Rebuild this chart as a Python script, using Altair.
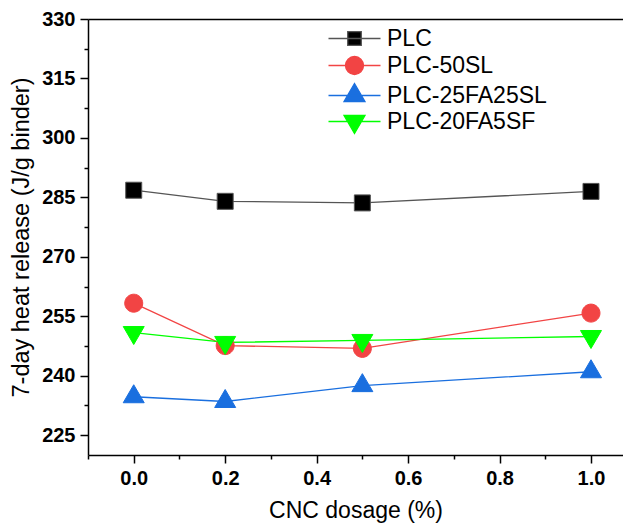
import altair as alt
import pandas as pd

# ---- data ----
dosage = [0.0, 0.2, 0.5, 1.0]
series_names = ["PLC", "PLC-50SL", "PLC-25FA25SL", "PLC-20FA5SF"]
plc = [286.8, 284.0, 283.6, 286.5]
plc_50sl = [258.3, 247.6, 246.9, 255.8]
plc_25fa25sl = [234.7, 233.5, 237.5, 241.0]
plc_20fa5sf = [250.9, 248.4, 248.9, 249.9]

y_ticks = [225 + 7.5 * i for i in range(15)]
x_ticks = [round(-0.1 + 0.1 * i, 1) for i in range(12)]

# ---- styles ----
fill_colors = ["#000000", "#F24444", "#1A6FDF", "#00FF00"]
line_colors = ["#555555", "#F24444", "#1A6FDF", "#00FF00"]

sq = "M-0.8,-0.8H0.8V0.8H-0.8Z"
sq_l = "M-0.68,-0.68H0.68V0.68H-0.68Z"
circ = "M-0.9,0A0.9,0.9,0,1,1,0.9,0A0.9,0.9,0,1,1,-0.9,0Z"
tri_up = "M0,-1.2L1.05,0.6H-1.05Z"
tri_dn = "M0,1.2L1.05,-0.6H-1.05Z"
marker_paths = [sq, circ, tri_up, tri_dn]
seg = "M-2.6,0H2.6"
legend_paths = [seg + sq_l, seg + circ, seg + tri_up, seg + tri_dn]

rows = []
for name, vals in zip(series_names, [plc, plc_50sl, plc_25fa25sl, plc_20fa5sf]):
    for d, v in zip(dosage, vals):
        rows.append({"series": name, "dosage": d, "heat": v})
df = pd.DataFrame(rows)

xscale = alt.Scale(domain=[-0.1, 1.07], nice=False, zero=False)
yscale = alt.Scale(domain=[220, 330], nice=False, zero=False)

x_major = "abs(round(datum.value*10)) % 2 == 0"
x_axis = alt.Axis(
    values=x_ticks,
    labelExpr=x_major + " ? format(datum.value, '.1f') : ''",
    tickSize={"condition": {"test": x_major, "value": 8}, "value": 4},
    labelPadding=5,
    titlePadding=11,
    titleFontSize=23,
    labelFlush=False,
)
y_major = "datum.value % 15 == 0"
y_axis = alt.Axis(
    values=y_ticks,
    labelExpr=y_major + " ? datum.label : ''",
    tickSize={"condition": {"test": y_major, "value": 8}, "value": 4},
    labelPadding=5,
    titlePadding=8,
    titleFontSize=23.5,
    labelFlush=False,
)
top_axis = alt.Axis(orient="top", labels=False, ticks=False, title="", domainColor="black", domainWidth=1.5)

Y = alt.Y("heat:Q", scale=yscale, axis=y_axis, title="7-day heat release (J/g binder)")

base = alt.Chart(df)

lines = base.mark_line(strokeWidth=1.3).encode(
    x=alt.X("dosage:Q", scale=xscale, axis=x_axis, title="CNC dosage (%)"),
    y=Y,
    stroke=alt.Stroke("series:N", scale=alt.Scale(domain=series_names, range=line_colors), legend=None),
    detail="series:N",
)

points = base.mark_point(filled=True, size=400, opacity=1, strokeWidth=1).encode(
    x=alt.X("dosage:Q", scale=xscale, axis=None),
    y=Y,
    fill=alt.Fill("series:N", scale=alt.Scale(domain=series_names, range=fill_colors), legend=None),
    stroke=alt.Stroke("series:N", scale=alt.Scale(domain=series_names, range=line_colors), legend=None),
    shape=alt.Shape("series:N", scale=alt.Scale(domain=series_names, range=marker_paths), legend=None),
)

leg = alt.Legend(
    orient="none", legendX=255, legendY=8, title=None,
    labelFont="Liberation Sans", labelFontSize=23, labelColor="black",
    symbolSize=400, symbolStrokeWidth=1.3, symbolOpacity=1,
    labelOffset=21, rowPadding=2, padding=0,
)

legend_layer = base.mark_point(filled=True, size=400, opacity=0).encode(
    x=alt.X("dosage:Q", scale=xscale, axis=top_axis),
    y=Y,
    fill=alt.Fill("series:N", scale=alt.Scale(domain=series_names, range=fill_colors), legend=leg),
    stroke=alt.Stroke("series:N", scale=alt.Scale(domain=series_names, range=line_colors), legend=leg),
    shape=alt.Shape("series:N", scale=alt.Scale(domain=series_names, range=legend_paths), legend=leg),
)

chart = alt.layer(lines, points, legend_layer).resolve_scale(
    fill="independent", stroke="independent", shape="independent"
).resolve_axis(x="independent").properties(
    width=535, height=436,
    autosize=alt.AutoSizeParams(type="none"),
    padding={"left": 80, "top": 11, "right": 0, "bottom": 68},
).configure_axis(
    labelFont="Liberation Sans", labelFontSize=20, labelFontWeight="bold", labelColor="black",
    titleFont="Liberation Sans", titleFontWeight="normal", titleColor="black",
    domainColor="black", domainWidth=1.5, tickColor="black", tickWidth=1.5, grid=False,
).configure_view(stroke="transparent")

chart.save("out.html", embed_options={"renderer": "svg", "actions": False})
